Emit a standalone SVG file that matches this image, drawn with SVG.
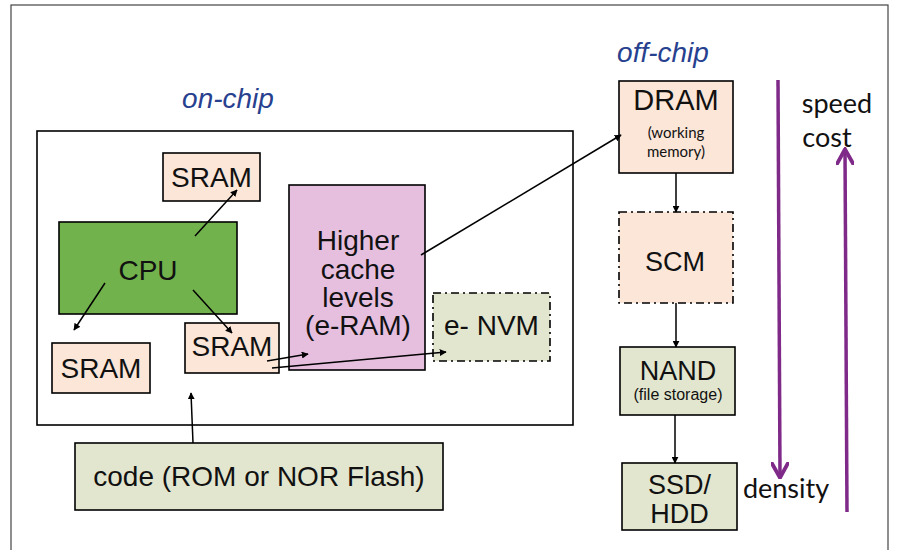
<svg xmlns="http://www.w3.org/2000/svg" width="897" height="550" viewBox="0 0 897 550">
<defs>
<marker id="ah" viewBox="0 0 10 10" refX="9" refY="5" markerWidth="7" markerHeight="7" markerUnits="userSpaceOnUse" orient="auto"><path d="M0,0 L10,5 L0,10 z" fill="#000"/></marker>
<marker id="ph" viewBox="0 0 10 10" refX="8" refY="5" markerWidth="5" markerHeight="5" orient="auto"><path d="M0,0 L9,5 L0,10" fill="none" stroke="#7f2a88" stroke-width="2.2"/></marker>
<style>
.box{stroke:#000;stroke-width:1.6}
.sram{fill:#fbe6d8}
.olive{fill:#e3e6cf}
.dash{stroke-dasharray:8,4,2,4}
.t{font-family:"Liberation Sans",Arial,sans-serif;fill:#111;text-anchor:middle;font-size:28px}
.g{font-family:Lato,"Open Sans",sans-serif;fill:#111;text-anchor:middle}
.lbl{font-family:"Liberation Sans",Arial,sans-serif;font-style:italic;fill:#27418f;font-size:28px;text-anchor:middle}
.c{stroke:#000;stroke-width:1.5;fill:none;marker-end:url(#ah)}
.p{stroke:#7f2a88;stroke-width:3.5;fill:none;marker-end:url(#ph)}
</style>
</defs>
<rect x="0" y="0" width="897" height="550" fill="#fff"/>
<rect x="11" y="5" width="877" height="560" fill="none" stroke="#444" stroke-width="1.2"/>
<text class="lbl" x="228" y="108">on-chip</text>
<text class="lbl" x="663" y="62">off-chip</text>
<g id="onchip"><rect x="37" y="131" width="536" height="294" fill="none" stroke="#000" stroke-width="1.6"/></g>
<g id="sram-top"><rect class="box sram" x="163" y="153" width="97" height="48"/><text class="t" x="211.5" y="187">SRAM</text></g>
<g id="cpu"><rect class="box" fill="#72b24c" x="59" y="222" width="178" height="92"/><text class="t" x="148" y="280">CPU</text></g>
<g id="cache"><rect class="box" fill="#e6bfdf" x="289" y="185" width="136" height="185"/><text class="t"><tspan x="358" y="250">Higher</tspan><tspan x="358" y="279">cache</tspan><tspan x="358" y="307">levels</tspan><tspan x="358" y="335">(e-RAM)</tspan></text></g>
<g id="sram-left"><rect class="box sram" x="52" y="343" width="98" height="50"/><text class="t" x="101" y="378">SRAM</text></g>
<g id="sram-mid"><rect class="box sram" x="185" y="323" width="94" height="50"/><text class="t" x="232" y="356">SRAM</text></g>
<g id="envm"><rect class="box olive dash" x="433" y="293" width="117" height="68"/><text class="t" x="491.5" y="335">e- NVM</text></g>
<g id="code"><rect class="box olive" x="75" y="443" width="368" height="67"/><text class="t" x="259" y="486">code (ROM or NOR Flash)</text></g>
<g id="dram"><rect class="box sram" x="619" y="81" width="114" height="92"/><text class="t" x="676" y="110" style="font-size:29px">DRAM</text><text class="g" style="font-size:15px" x="676" y="138">(working</text><text class="g" style="font-size:15px" x="676" y="157">memory)</text></g>
<g id="scm"><rect class="box sram dash" x="619" y="212" width="114" height="91"/><text class="t" x="675" y="271" style="font-size:27px">SCM</text></g>
<g id="nand"><rect class="box olive" x="620" y="347" width="115" height="68"/><text class="t" x="678" y="380" style="font-size:27px">NAND</text><text class="t" x="678" y="400" style="font-size:16px">(file storage)</text></g>
<g id="ssd"><rect class="box olive" x="622" y="463" width="115" height="67"/><text class="t" style="font-size:27px"><tspan x="679.5" y="494">SSD/</tspan><tspan x="679.5" y="523">HDD</tspan></text></g>
<text class="g" x="837" y="113" style="font-size:27px">speed</text>
<text class="g" x="827" y="147" style="font-size:27px">cost</text>
<text class="g" x="786" y="498" style="font-size:27px">density</text>
<g id="connectors">
<line class="c" x1="195" y1="236" x2="237" y2="190"/>
<line class="c" x1="105" y1="283" x2="74" y2="330"/>
<line class="c" x1="193" y1="290" x2="232" y2="333"/>
<line class="c" x1="267" y1="361" x2="308" y2="354"/>
<line class="c" x1="272" y1="368" x2="446" y2="352"/>
<line class="c" x1="421" y1="255" x2="621" y2="135"/>
<line class="c" x1="676" y1="173" x2="676" y2="212"/>
<line class="c" x1="676" y1="303" x2="676" y2="347"/>
<line class="c" x1="675" y1="415" x2="675" y2="463"/>
<line class="c" x1="193" y1="443" x2="191" y2="393"/>
<line class="p" x1="778" y1="80" x2="780" y2="476"/>
<line class="p" x1="847" y1="512" x2="845" y2="151"/>
</g>
</svg>
